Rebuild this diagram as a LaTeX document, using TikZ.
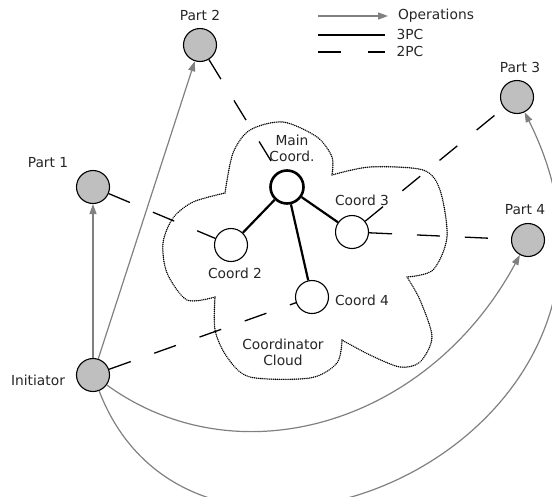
\documentclass[tikz,border=0pt]{standalone}
\usepackage{fontspec}
\setmainfont{DejaVu Sans}
\usetikzlibrary{arrows.meta}
\tikzstyle{part} = [draw,circle,fill=black!25,line width=1.1pt,minimum size=33pt,inner sep=0]
\tikzstyle{coord} = [draw,circle,fill=white,line width=1.1pt,minimum size=33pt,inner sep=0]
\tikzstyle{lbl} = [font=\fontsize{13.8}{16}\selectfont,text=black!85,inner sep=1pt]
\tikzstyle{op} = [-{Triangle[length=10pt,width=7pt]},draw=black!50,line width=1.2pt]
\tikzstyle{tpc} = [-,line width=2.2pt]
\tikzstyle{twopc} = [-,line width=1.3pt,dash pattern=on 23pt off 25pt]
\tikzstyle{cloud} = [line width=1.6pt,dash pattern=on 0.01pt off 1.9pt,line cap=round]

\begin{document}
\begin{tikzpicture}[x=1pt,y=-1pt]
  \useasboundingbox (0,0) rectangle (552,496);

  % coordinator cloud, one lobe at a time
  \draw[cloud] plot[smooth] coordinates {(225,193) (233,153) (250,130) (283,122) (317,137) (332,157) (332,175)};
  \draw[cloud] plot[smooth] coordinates {(332,175) (370,167) (423,170) (440,190) (447,237) (433,270) (407,277)};
  \draw[cloud] plot[smooth] coordinates {(407,277) (420,300) (432,337) (420,362) (400,367) (370,355) (342,340)};
  \draw[cloud] plot[smooth] coordinates {(342,340) (337,363) (310,378) (250,377) (227,357) (215,330) (215,297)};
  \draw[cloud] plot[smooth] coordinates {(215,297) (187,300) (167,273) (163,243) (173,218) (193,202) (225,193)};

  % participants
  \node[part] (p1) at (93,187) {};
  \node[part] (p2) at (200,45) {};
  \node[part] (p3) at (517,97) {};
  \node[part] (p4) at (528,240) {};
  \node[part] (init) at (93,375) {};

  % coordinators
  \node[coord,line width=2.6pt] (mc) at (287,187) {};
  \node[coord] (c2) at (231,245) {};
  \node[coord] (c3) at (352,232) {};
  \node[coord] (c4) at (312,297) {};

  % labels
  \node[lbl] (p1l) at (48,163) {Part 1};
  \node[lbl] (p2l) at (200,15) {Part 2};
  \node[lbl] (p3l) at (520,67) {Part 3};
  \node[lbl] (p4l) at (525,210) {Part 4};
  \node[lbl] (initl) at (38,380) {Initiator};
  \node[lbl,align=center] (mcl) at (292,148) {Main\\Coord.};
  \node[lbl] (c2l) at (235,273) {Coord 2};
  \node[lbl] (c3l) at (362,200) {Coord 3};
  \node[lbl] (c4l) at (362,300) {Coord 4};
  \node[lbl,align=center] (cloudl) at (283,352) {Coordinator\\Cloud};

  % 3PC inside the cloud
  \draw[tpc] (mc) -- (c2);
  \draw[tpc] (mc) -- (c3);
  \draw[tpc] (mc) -- (c4);

  % 2PC towards the participants
  \draw[twopc] (p2) -- (mc);
  \draw[twopc] (p1) -- (c2);
  \draw[twopc] (c3) -- (p3);
  \draw[twopc] (c3) -- (p4);
  \draw[twopc] (init) -- (c4);

  % operations from the initiator
  \draw[op] (init) -- (p1);
  \draw[op] (init) -- (p2);
  \draw[op] (init) .. controls +(145,105) and +(-100,185) .. (p4);
  \draw[op] (init) .. controls +(107,278) and +(170,340) .. (p3);

  % legend
  \coordinate (opa) at (318,16);
  \coordinate (opb) at (388,16);
  \coordinate (tpa) at (318,35);
  \coordinate (tpb) at (385,35);
  \coordinate (twa) at (318,52);
  \coordinate (twb) at (385,52);
  \draw[op] (opa) -- (opb);
  \draw[tpc] (tpa) -- (tpb);
  \draw[twopc,dash pattern=on 23pt off 27pt] (twa) -- (twb);
  \node[lbl] (opl) at (436,16) {Operations};
  \node[lbl] (tpl) at (410,34) {3PC};
  \node[lbl] (twl) at (410,51) {2PC};
\end{tikzpicture}
\end{document}
